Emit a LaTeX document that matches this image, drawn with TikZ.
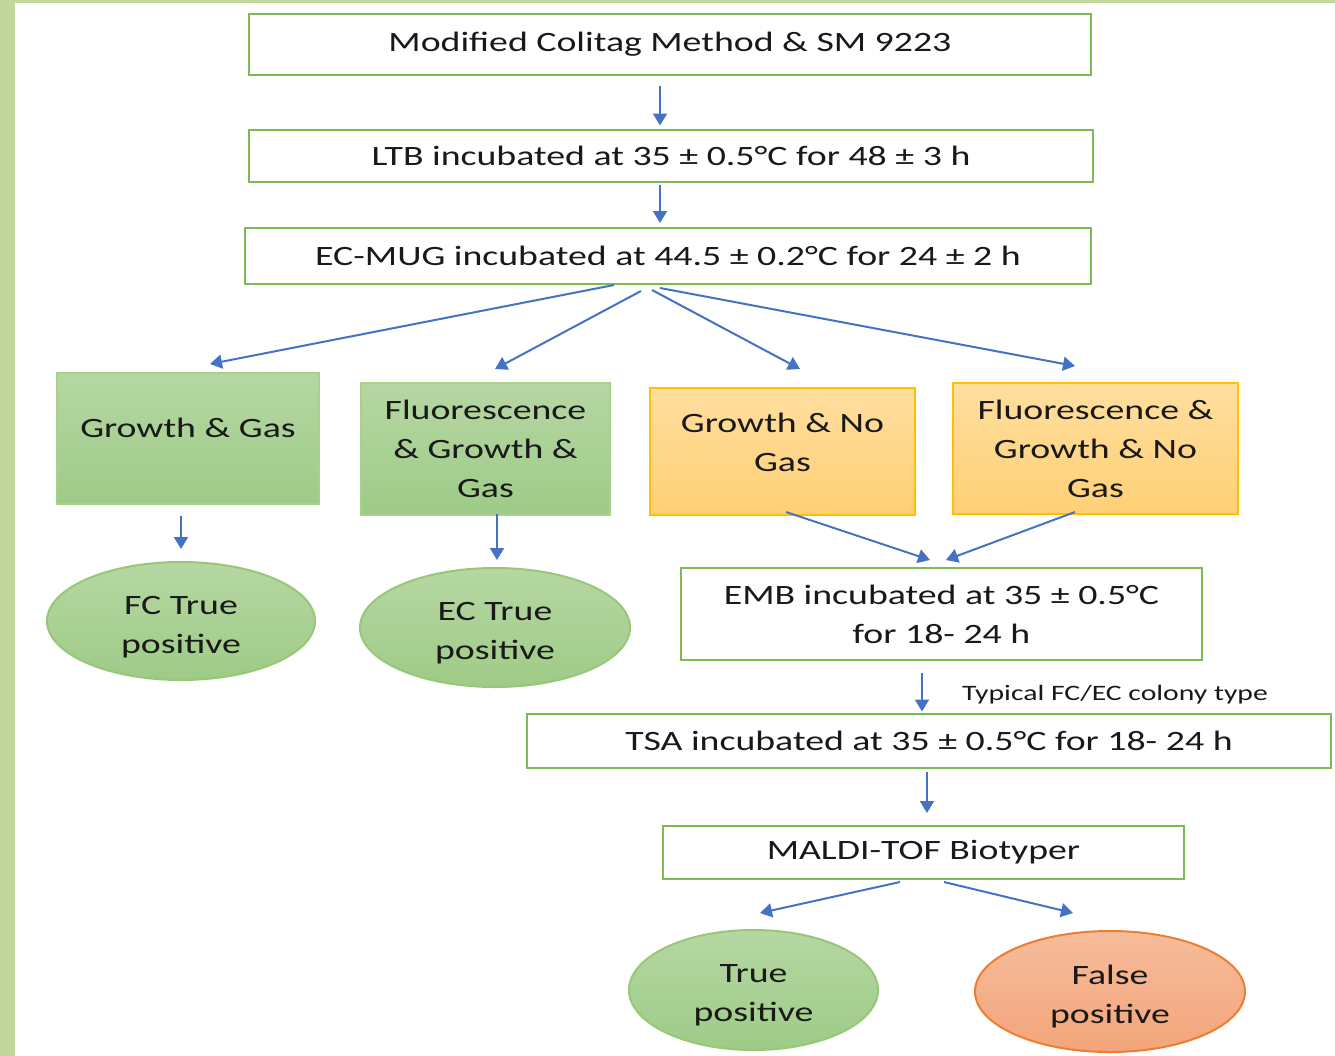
\documentclass[tikz,border=0pt]{standalone}
\usepackage{fontspec}
\setmainfont{Carlito}[FakeStretch=1.35]
\usetikzlibrary{arrows.meta,calc,shapes.geometric}
\definecolor{strip}{RGB}{195,214,155}
\definecolor{bgreen}{RGB}{125,185,85}
\definecolor{gtop}{RGB}{182,215,163}
\definecolor{gbot}{RGB}{158,203,135}
\definecolor{gline}{RGB}{169,209,142}
\definecolor{otop}{RGB}{255,222,158}
\definecolor{obot}{RGB}{255,208,118}
\definecolor{oline}{RGB}{255,192,0}
\definecolor{stop}{RGB}{246,188,155}
\definecolor{sbot}{RGB}{243,165,122}
\definecolor{sline}{RGB}{237,125,49}
\definecolor{arr}{RGB}{68,114,196}
\tikzset{
  txt/.style={font=\fontsize{14pt}{19.5pt}\selectfont, align=center, inner sep=0pt, text=black!90},
  wbox/.style={txt, draw=bgreen, line width=1pt, fill=white},
  gbox/.style={draw=gline, line width=1pt, top color=gtop, bottom color=gbot},
  obox/.style={draw=oline, line width=1pt, top color=otop, bottom color=obot},
  gell/.style={ellipse, draw=bgreen!80, line width=1pt, top color=gtop, bottom color=gbot},
  sell/.style={ellipse, draw=sline, line width=1pt, top color=stop, bottom color=sbot},
  conn/.style={draw=arr, line width=1pt, -{Triangle[width=7pt,length=6pt]}}
}
\begin{document}
\begin{tikzpicture}[x=0.5pt,y=-0.5pt]
\useasboundingbox (0,0) rectangle (1335,1056);
\fill[strip] (0,0) rectangle (1335,3);
\fill[strip] (0,0) rectangle (15,1056);

\node[wbox, minimum width=421pt, minimum height=30.5pt] (top) at (670,44.5) {Modified Colitag Method \& SM 9223};
\node[wbox, minimum width=422pt, minimum height=26pt] (ltb) at (671,155.5) {LTB incubated at 35 ± 0.5°C for 48 ± 3 h};
\node[wbox, minimum width=423pt, minimum height=28pt] (ec) at (668,256) {EC-MUG incubated at 44.5 ± 0.2°C for 24 ± 2 h};

\node[gbox, minimum width=131pt, minimum height=65.5pt] (gg) at (188,438.5) {};
\node[txt] (ggt) at (188,428) {Growth \& Gas};
\node[gbox, minimum width=124.5pt, minimum height=66pt] (fgg) at (485.5,449) {};
\node[txt] (fggt) at (485.5,448.5) {Fluorescence\\\& Growth \&\\Gas};
\node[obox, minimum width=132.5pt, minimum height=63.5pt] (gng) at (782.5,451.5) {};
\node[txt] (gngt) at (782.5,442.5) {Growth \& No\\Gas};
\node[obox, minimum width=142.5pt, minimum height=65.5pt] (fgng) at (1095.5,448.5) {};
\node[txt] (fgngt) at (1095.5,448.5) {Fluorescence \&\\Growth \& No\\Gas};

\node[gell, minimum width=134pt, minimum height=59pt] (fc) at (181,621) {};
\node[txt] (fct) at (181,627) {FC True\\positive};
\node[gell, minimum width=135pt, minimum height=59.5pt] (ect) at (495,627.5) {};
\node[txt] (ectt) at (495,633) {EC True\\positive};

\node[wbox, minimum width=260.5pt, minimum height=46pt] (emb) at (941.5,614) {EMB incubated at 35 ± 0.5°C\\for 18- 24 h};
\node[txt, font=\fontsize{11pt}{13pt}\selectfont] (lab) at (1115,695) {Typical FC/EC colony type};
\node[wbox, minimum width=402pt, minimum height=27pt] (tsa) at (929,740.5) {TSA incubated at 35 ± 0.5°C for 18- 24 h};
\node[wbox, minimum width=260.5pt, minimum height=26.5pt] (maldi) at (923.5,852.5) {MALDI-TOF Biotyper};

\node[gell, minimum width=124.5pt, minimum height=60pt] (tp) at (753.5,990) {};
\node[txt] (tpt) at (753.5,995) {True\\positive};
\node[sell, minimum width=135pt, minimum height=60.5pt] (fp) at (1110,991.5) {};
\node[txt] (fpt) at (1110,997) {False\\positive};

\draw[conn] ($(top.south)+(-10,10)$) -- ($(ltb.north)+(-11,-3)$);
\draw[conn] ($(ltb.south)+(-11,2)$) -- ($(ec.north)+(-8,-4)$);
\draw[conn] ($(ec.south)+(-54,0)$) -- ($(gg.north)+(22,-8)$);
\draw[conn] ($(ec.south)+(-27,6)$) -- ($(fgg.north)+(9.5,-13)$);
\draw[conn] ($(ec.south)+(-16,5)$) -- ($(gng.north)+(17.5,-18)$);
\draw[conn] ($(ec.south)+(-8,3)$) -- ($(fgng.north)+(-20.5,-16)$);
\draw[conn] ($(gg.south)+(-7,11)$) -- ($(fc.north)+(0,-12)$);
\draw[conn] ($(fgg.south)+(11.5,-2)$) -- ($(ect.north)+(2,-7)$);
\draw[conn] ($(gng.south)+(3.5,-4)$) -- ($(emb.north)+(-11.5,-7)$);
\draw[conn] ($(fgng.south)+(-20.5,-3)$) -- ($(emb.north)+(4.5,-7)$);
\draw[conn] ($(emb.south)+(-19.5,12)$) -- ($(tsa.north)+(-7,-1)$);
\draw[conn] ($(tsa.south)+(-2,3)$) -- ($(maldi.north)+(3.5,-12)$);
\draw[conn] ($(maldi.south)+(-23.5,2)$) -- ($(tp.north)+(6.5,-16)$);
\draw[conn] ($(maldi.south)+(20.5,2)$) -- ($(fp.north)+(-37,-17)$);
\end{tikzpicture}
\end{document}
